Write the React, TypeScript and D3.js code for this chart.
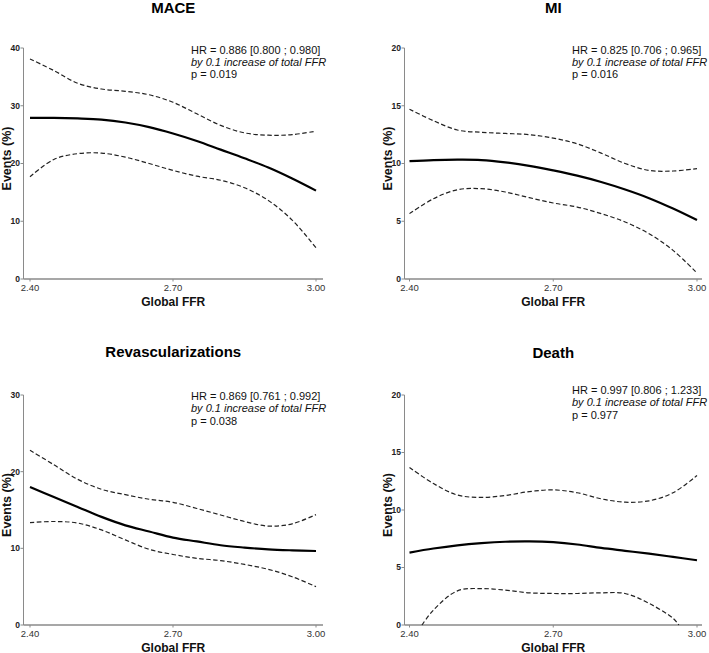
import React from "react";
import * as d3 from "d3";

const xTicks = [2.4, 2.7, 3.0];

// MACE
const maceX = [2.4, 2.45, 2.5, 2.55, 2.6, 2.65, 2.7, 2.75, 2.8, 2.85, 2.9, 2.95, 3.0];
const maceFit = [27.9, 27.9, 27.8, 27.6, 27.1, 26.3, 25.2, 23.9, 22.4, 20.9, 19.3, 17.4, 15.3];
const maceUpper = [38.1, 36.1, 33.9, 32.9, 32.5, 31.9, 30.6, 28.6, 26.6, 25.3, 24.9, 25.0, 25.6];
const maceLower = [17.7, 20.7, 21.7, 21.8, 21.1, 20.0, 18.8, 17.8, 17.1, 15.8, 13.6, 10.2, 5.4];

// MI
const miX = [2.4, 2.45, 2.5, 2.55, 2.6, 2.65, 2.7, 2.75, 2.8, 2.85, 2.9, 2.95, 3.0];
const miFit = [10.2, 10.3, 10.33, 10.3, 10.1, 9.8, 9.4, 8.95, 8.4, 7.75, 7.0, 6.1, 5.1];
const miUpper = [14.7, 13.7, 12.9, 12.7, 12.6, 12.5, 12.2, 11.7, 10.9, 10.0, 9.4, 9.35, 9.55];
const miLower = [5.66, 6.95, 7.73, 7.82, 7.53, 7.04, 6.58, 6.23, 5.66, 4.94, 3.92, 2.48, 0.52];

// Revascularizations
const revX = [2.4, 2.45, 2.5, 2.55, 2.6, 2.65, 2.7, 2.75, 2.8, 2.85, 2.9, 2.95, 3.0];
const revFit = [18.0, 16.7, 15.4, 14.1, 13.0, 12.2, 11.4, 10.9, 10.4, 10.1, 9.87, 9.74, 9.65];
const revUpper = [22.8, 20.9, 19.0, 17.7, 17.0, 16.4, 16.0, 15.2, 14.35, 13.5, 12.9, 13.2, 14.4];
const revLower = [13.35, 13.5, 13.3, 12.4, 11.1, 9.87, 9.2, 8.7, 8.4, 7.9, 7.26, 6.3, 5.0];

// Death
const deathX = [2.4, 2.45, 2.5, 2.55, 2.6, 2.65, 2.7, 2.75, 2.8, 2.85, 2.9, 2.95, 3.0];
const deathFit = [6.3, 6.65, 6.93, 7.12, 7.24, 7.27, 7.2, 7.0, 6.7, 6.45, 6.2, 5.92, 5.63];
const deathUpper = [13.7, 12.3, 11.3, 11.1, 11.26, 11.6, 11.75, 11.5, 10.97, 10.68, 10.8, 11.5, 13.0];
const deathLowerX = [2.426, 2.45, 2.5, 2.55, 2.6, 2.65, 2.7, 2.75, 2.8, 2.85, 2.9, 2.95, 2.962];
const deathLower = [0, 1.3, 2.97, 3.17, 3.03, 2.8, 2.74, 2.74, 2.8, 2.74, 1.88, 0.58, 0];

type Panel = {
  title: string;
  hr: string;
  p: string;
  yMax: number;
  yTicks: number[];
  fitX: number[];
  fit: number[];
  upX: number[];
  up: number[];
  loX: number[];
  lo: number[];
  x0: number; x1: number; axisL: number; axisR: number;
  yTop: number; yBot: number;
  titleY: number; textX: number; textY: number; labelX: number;
};

const panels: Panel[] = [
  {
    title: "MACE", hr: "HR = 0.886 [0.800 ; 0.980]", p: "p = 0.019",
    yMax: 40, yTicks: [0, 10, 20, 30, 40],
    fitX: maceX, fit: maceFit, upX: maceX, up: maceUpper, loX: maceX, lo: maceLower,
    x0: 30, x1: 316, axisL: 23.5, axisR: 323, yTop: 48, yBot: 279,
    titleY: 13, textX: 191, textY: 53.5, labelX: 6.5,
  },
  {
    title: "MI", hr: "HR = 0.825 [0.706 ; 0.965]", p: "p = 0.016",
    yMax: 20, yTicks: [0, 5, 10, 15, 20],
    fitX: miX, fit: miFit, upX: miX, up: miUpper, loX: miX, lo: miLower,
    x0: 409.5, x1: 697, axisL: 404.5, axisR: 702, yTop: 48, yBot: 279,
    titleY: 13, textX: 572, textY: 53.5, labelX: 387.5,
  },
  {
    title: "Revascularizations", hr: "HR = 0.869 [0.761 ; 0.992]", p: "p = 0.038",
    yMax: 30, yTicks: [0, 10, 20, 30],
    fitX: revX, fit: revFit, upX: revX, up: revUpper, loX: revX, lo: revLower,
    x0: 30, x1: 316, axisL: 23.5, axisR: 323, yTop: 395, yBot: 625,
    titleY: 357, textX: 191, textY: 400, labelX: 6.5,
  },
  {
    title: "Death", hr: "HR = 0.997 [0.806 ; 1.233]", p: "p = 0.977",
    yMax: 20, yTicks: [0, 5, 10, 15, 20],
    fitX: deathX, fit: deathFit, upX: deathX, up: deathUpper, loX: deathLowerX, lo: deathLower,
    x0: 409.5, x1: 697, axisL: 404.5, axisR: 702, yTop: 395, yBot: 625,
    titleY: 358, textX: 572, textY: 394, labelX: 387.5,
  },
];

const FONT = "'Liberation Sans', Arial, Helvetica, sans-serif";
const AXIS = "#8a8a8a";

function PanelView({ pn }: { pn: Panel }) {
  const x = d3.scaleLinear().domain([2.4, 3.0]).range([pn.x0, pn.x1]);
  const y = d3.scaleLinear().domain([0, pn.yMax]).range([pn.yBot, pn.yTop]);
  const line = (xs: number[], ys: number[]) =>
    d3.line<number>()
      .x((_, i) => x(xs[i]))
      .y((v) => y(v))
      .curve(d3.curveCatmullRom.alpha(0.5))(ys) || "";
  const cx = (pn.axisL + pn.axisR) / 2;
  const midY = (pn.yTop + pn.yBot) / 2;
  return (
    <g fontFamily={FONT}>
      <text x={cx} y={pn.titleY} textAnchor="middle" fontWeight="bold" fontSize={15} fill="#000">{pn.title}</text>
      {/* y axis */}
      <line x1={pn.axisL} x2={pn.axisL} y1={pn.yTop} y2={pn.yBot} stroke={AXIS} strokeWidth={1} />
      {pn.yTicks.map((t) => (
        <g key={t}>
          <line x1={pn.axisL - 3} x2={pn.axisL} y1={y(t)} y2={y(t)} stroke={AXIS} strokeWidth={1} />
          <text x={pn.axisL - 3.5} y={y(t)} dy="0.35em" textAnchor="end" fontSize={8.5} fontWeight="bold" fill="#222">{t}</text>
        </g>
      ))}
      {/* x axis */}
      <line x1={pn.axisL} x2={pn.axisR} y1={pn.yBot} y2={pn.yBot} stroke={AXIS} strokeWidth={1.6} />
      {xTicks.map((t) => (
        <g key={t}>
          <line x1={x(t)} x2={x(t)} y1={pn.yBot} y2={pn.yBot + 2.5} stroke={AXIS} strokeWidth={1} />
          <text x={x(t)} y={pn.yBot + 11.5} textAnchor="middle" fontSize={9.5} fill="#333">{t.toFixed(2)}</text>
        </g>
      ))}
      <text x={cx} y={pn.yBot + 26.5} textAnchor="middle" fontSize={12} fontWeight="bold" fill="#111">Global FFR</text>
      <text transform={`translate(${pn.labelX},${midY - 5}) rotate(-90)`} textAnchor="middle" fontSize={12.5} fontWeight="bold" fill="#111" dy="0.35em">Events (%)</text>
      {/* curves */}
      <path d={line(pn.upX, pn.up)} fill="none" stroke="#222" strokeWidth={1.2} strokeDasharray="4.5,2.5" />
      <path d={line(pn.loX, pn.lo)} fill="none" stroke="#222" strokeWidth={1.2} strokeDasharray="4.5,2.5" />
      <path d={line(pn.fitX, pn.fit)} fill="none" stroke="#000" strokeWidth={2.2} />
      {/* annotation */}
      <text x={pn.textX} y={pn.textY} fontSize={11} fill="#111">{pn.hr}</text>
      <text x={pn.textX} y={pn.textY + 12.3} fontSize={11} fontStyle="italic" fill="#111">by 0.1 increase of total FFR</text>
      <text x={pn.textX} y={pn.textY + 24.6} fontSize={11} fill="#111">{pn.p}</text>
    </g>
  );
}

export default function App() {
  return (
    <svg width={709} height={653} style={{ position: "absolute", left: 0, top: 0, background: "#fff" }}>
      <rect width={709} height={653} fill="#fff" />
      {panels.map((pn) => (
        <PanelView key={pn.title} pn={pn} />
      ))}
    </svg>
  );
}
